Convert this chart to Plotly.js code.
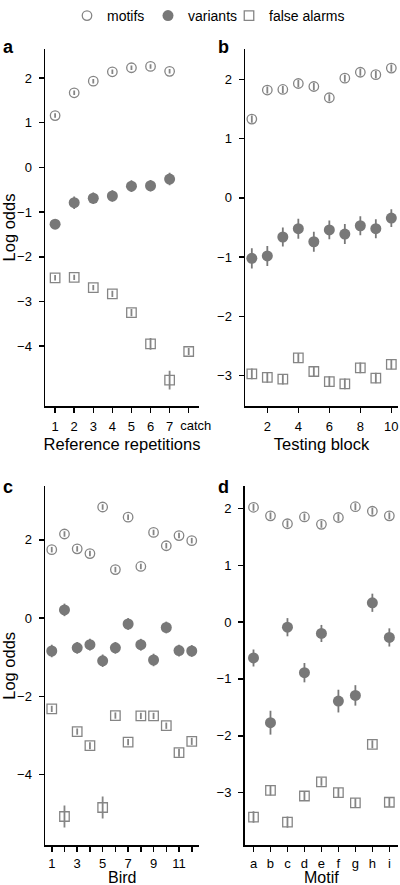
<!DOCTYPE html>
<html>
<head>
<meta charset="utf-8">
<script src="https://cdn.plot.ly/plotly-3.0.1.min.js"></script>
<style>
html,body{margin:0;padding:0;background:#fff;}
#chart{width:400px;height:885px;}
</style>
</head>
<body>
<div id="chart"></div>
<script>
// ---------- Panel a: Reference repetitions ----------
const aX = [1, 2, 3, 4, 5, 6, 7, 8];
const aTickText = ['1', '2', '3', '4', '5', '6', '7', ''];
const aCatchTick = [8];
const aCatchLabel = ['catch'];
const aMotifX = [1, 2, 3, 4, 5, 6, 7];
const aMotif = [1.16, 1.67, 1.93, 2.14, 2.23, 2.26, 2.15];
const aMotifErr = [0.05, 0.05, 0.05, 0.05, 0.05, 0.05, 0.05];
const aVariantX = [1, 2, 3, 4, 5, 6, 7];
const aVariant = [-1.27, -0.79, -0.69, -0.64, -0.42, -0.41, -0.26];
const aVariantErr = [0.06, 0.14, 0.13, 0.13, 0.13, 0.13, 0.14];
const aFalseX = [1, 2, 3, 4, 5, 6, 7, 8];
const aFalse = [-2.47, -2.46, -2.69, -2.83, -3.25, -3.95, -4.76, -4.12];
const aFalseErr = [0.06, 0.06, 0.06, 0.07, 0.08, 0.13, 0.21, 0.08];

// ---------- Panel b: Testing block ----------
const bX = [1, 2, 3, 4, 5, 6, 7, 8, 9, 10];
const bTicks = [2, 4, 6, 8, 10];
const bMotif = [1.33, 1.82, 1.83, 1.93, 1.88, 1.69, 2.02, 2.12, 2.08, 2.19];
const bMotifErr = [0.06, 0.06, 0.06, 0.06, 0.06, 0.06, 0.06, 0.06, 0.06, 0.06];
const bVariant = [-1.02, -0.98, -0.66, -0.52, -0.74, -0.54, -0.61, -0.47, -0.52, -0.34];
const bVariantErr = [0.17, 0.17, 0.16, 0.17, 0.17, 0.16, 0.17, 0.16, 0.16, 0.15];
const bFalse = [-2.97, -3.03, -3.06, -2.70, -2.93, -3.10, -3.14, -2.87, -3.04, -2.81];
const bFalseErr = [0.09, 0.09, 0.09, 0.08, 0.09, 0.09, 0.09, 0.09, 0.09, 0.08];

// ---------- Panel c: Bird ----------
const cX = [1, 2, 3, 4, 5, 6, 7, 8, 9, 10, 11, 12];
const cTickText = ['1', '', '3', '', '5', '', '7', '', '9', '', '11', ''];
const cMotif = [1.75, 2.15, 1.77, 1.65, 2.84, 1.24, 2.58, 1.32, 2.19, 1.85, 2.11, 1.98];
const cMotifErr = [0.07, 0.07, 0.07, 0.07, 0.07, 0.07, 0.07, 0.07, 0.07, 0.07, 0.07, 0.07];
const cVariant = [-0.84, 0.21, -0.76, -0.68, -1.09, -0.76, -0.15, -0.68, -1.07, -0.24, -0.83, -0.84];
const cVariantErr = [0.16, 0.16, 0.15, 0.15, 0.16, 0.15, 0.15, 0.15, 0.16, 0.15, 0.15, 0.15];
const cFalse = [-2.32, -5.07, -2.90, -3.26, -4.84, -2.49, -3.17, -2.50, -2.50, -2.75, -3.44, -3.15];
const cFalseErr = [0.08, 0.28, 0.08, 0.09, 0.28, 0.08, 0.08, 0.08, 0.08, 0.08, 0.1, 0.09];

// ---------- Panel d: Motif ----------
const dX = ['a', 'b', 'c', 'd', 'e', 'f', 'g', 'h', 'i'];
const dMotif = [2.02, 1.87, 1.73, 1.85, 1.72, 1.84, 2.03, 1.95, 1.87];
const dMotifErr = [0.06, 0.06, 0.06, 0.06, 0.06, 0.06, 0.06, 0.06, 0.06];
const dVariant = [-0.63, -1.77, -0.09, -0.89, -0.20, -1.39, -1.29, 0.34, -0.27];
const dVariantErr = [0.15, 0.21, 0.16, 0.17, 0.15, 0.2, 0.18, 0.16, 0.16];
const dFalse = [-3.43, -2.96, -3.52, -3.06, -2.81, -3.00, -3.18, -2.15, -3.17];
const dFalseErr = [0.1, 0.09, 0.1, 0.08, 0.07, 0.08, 0.08, 0.07, 0.08];

const seriesNames = ['motifs', 'variants', 'false alarms'];

// ---------- styles ----------
const GRAY = '#858585';
const FILL = '#787878';
const FONT = 'Liberation Sans, Arial, sans-serif';
const styles = [
  {symbol: 'circle-open', size: 9.5, color: GRAY, line: {color: GRAY, width: 1.3}},
  {symbol: 'circle', size: 11, color: FILL, line: {width: 0}},
  {symbol: 'square-open', size: 9.5, color: GRAY, line: {color: GRAY, width: 1.3}}
];
const errColor = [GRAY, FILL, GRAY];
const legendWidths = [36, 36, 90];

function tr(x, y, err, k, xa, ya) {
  return {
    type: 'scatter', mode: 'markers', x: x, y: y,
    xaxis: xa, yaxis: ya, showlegend: false, hoverinfo: 'x+y',
    marker: styles[k],
    error_y: {type: 'data', array: err, visible: true, width: 0, thickness: 1.8, color: errColor[k]}
  };
}

const data = [];
// panel a
data.push(tr(aMotifX, aMotif, aMotifErr, 0, 'x', 'y'));
data.push(tr(aVariantX, aVariant, aVariantErr, 1, 'x', 'y'));
data.push(tr(aFalseX, aFalse, aFalseErr, 2, 'x', 'y'));
// panel b
data.push(tr(bX, bMotif, bMotifErr, 0, 'x2', 'y2'));
data.push(tr(bX, bVariant, bVariantErr, 1, 'x2', 'y2'));
data.push(tr(bX, bFalse, bFalseErr, 2, 'x2', 'y2'));
// panel c
data.push(tr(cX, cMotif, cMotifErr, 0, 'x3', 'y3'));
data.push(tr(cX, cVariant, cVariantErr, 1, 'x3', 'y3'));
data.push(tr(cX, cFalse, cFalseErr, 2, 'x3', 'y3'));
// panel d
data.push(tr(dX, dMotif, dMotifErr, 0, 'x4', 'y4'));
data.push(tr(dX, dVariant, dVariantErr, 1, 'x4', 'y4'));
data.push(tr(dX, dFalse, dFalseErr, 2, 'x4', 'y4'));
// legend entries (no data; they live on the helper axis that carries the 'catch' label)
for (let k = 0; k < 3; k++) {
  data.push({type: 'scatter', mode: 'markers', x: [null], y: [null], xaxis: 'x5', yaxis: 'y',
    name: seriesNames[k], showlegend: true, marker: styles[k], legendwidth: legendWidths[k]});
}

const W = 400, H = 885;
const px = v => v / W;
const py = v => 1 - v / H;

const axBase = {
  showline: true, linecolor: '#000', linewidth: 1.5,
  ticks: 'outside', ticklen: 5, tickwidth: 1.5, tickcolor: '#000',
  showgrid: false, zeroline: false, mirror: false,
  tickfont: {family: FONT, size: 13, color: '#000'},
  tickangle: 0,
  fixedrange: true
};
function ax(extra) { return Object.assign({}, axBase, extra); }
const titleFont = {family: FONT, size: 16.5, color: '#000'};
const bottomTitleFont = {family: FONT, size: 16, color: '#000'};

const aRange = [0.47, 8.54];
const catchShiftPx = 7;
const aUnitPx = (199 - 45) / (aRange[1] - aRange[0]);
const aRangeShifted = [aRange[0] - catchShiftPx / aUnitPx, aRange[1] - catchShiftPx / aUnitPx];

const layout = {
  width: W, height: H,
  margin: {l: 0, r: 0, t: 0, b: 0},
  paper_bgcolor: '#fff', plot_bgcolor: '#fff',
  font: {family: FONT, color: '#000'},
  showlegend: true,
  legend: {
    orientation: 'h', x: px(67), xanchor: 'left', y: 1.012, yanchor: 'top',
    font: {family: FONT, size: 14, color: '#000'},
    entrywidthmode: 'pixels', itemwidth: 30,
    bgcolor: 'rgba(0,0,0,0)'
  },
  xaxis: ax({domain: [px(45), px(199)], anchor: 'y', range: aRange,
    tickmode: 'array', tickvals: aX, ticktext: aTickText, ticklabelstandoff: 2,
    title: {text: 'Reference repetitions', font: titleFont, standoff: 6}}),
  xaxis5: ax({domain: [px(45), px(199)], anchor: 'y', overlaying: 'x', range: aRangeShifted,
    showline: false, tickcolor: 'rgba(0,0,0,0)',
    tickmode: 'array', tickvals: aCatchTick, ticktext: aCatchLabel, ticklabelstandoff: 2}),
  yaxis: ax({domain: [py(401), py(39)], anchor: 'x', range: [-5.35, 2.66],
    tickmode: 'array', tickvals: [-4, -3, -2, -1, 0, 1, 2], ticklabelstandoff: 4,
    title: {text: 'Log odds', font: titleFont, standoff: 2}}),
  xaxis2: ax({domain: [px(245), px(398)], anchor: 'y2', range: [0.56, 10.43],
    tickmode: 'array', tickvals: bTicks, ticklabelstandoff: 2,
    title: {text: 'Testing block', font: titleFont, standoff: 6}}),
  yaxis2: ax({domain: [py(401), py(39)], anchor: 'x2', range: [-3.52, 2.52],
    tickmode: 'array', tickvals: [-3, -2, -1, 0, 1, 2], ticklabelstandoff: 4}),
  xaxis3: ax({domain: [px(45), px(199)], anchor: 'y3', range: [0.47, 12.57],
    tickmode: 'array', tickvals: cX, ticktext: cTickText, ticklabelstandoff: 0}),
  yaxis3: ax({domain: [py(845), py(481.7)], anchor: 'x3', range: [-5.81, 3.37],
    tickmode: 'array', tickvals: [-4, -2, 0, 2], ticklabelstandoff: 4,
    title: {text: 'Log odds', font: titleFont, standoff: 2}}),
  xaxis4: ax({domain: [px(244.5), px(398)], anchor: 'y4', type: 'category',
    range: [-0.53, 8.51], categoryorder: 'array', categoryarray: dX,
    tickmode: 'array', tickvals: dX, ticktext: dX, ticklabelstandoff: 0}),
  yaxis4: ax({domain: [py(845), py(481.7)], anchor: 'x4', range: [-3.93, 2.39],
    tickmode: 'array', tickvals: [-3, -2, -1, 0, 1, 2], ticklabelstandoff: 4}),
  annotations: [
    {text: '<b>a</b>', x: px(1), y: py(37), xref: 'paper', yref: 'paper', xanchor: 'left', yanchor: 'middle', showarrow: false, font: {family: FONT, size: 18, color: '#000'}},
    {text: '<b>b</b>', x: px(216), y: py(37), xref: 'paper', yref: 'paper', xanchor: 'left', yanchor: 'middle', showarrow: false, font: {family: FONT, size: 18, color: '#000'}},
    {text: '<b>c</b>', x: px(1), y: py(482), xref: 'paper', yref: 'paper', xanchor: 'left', yanchor: 'middle', showarrow: false, font: {family: FONT, size: 18, color: '#000'}},
    {text: '<b>d</b>', x: px(216), y: py(482), xref: 'paper', yref: 'paper', xanchor: 'left', yanchor: 'middle', showarrow: false, font: {family: FONT, size: 18, color: '#000'}},
    {text: 'Bird', x: px(122), y: 0, yshift: -3, xref: 'paper', yref: 'paper', xanchor: 'center', yanchor: 'bottom', showarrow: false, font: bottomTitleFont},
    {text: 'Motif', x: px(321), y: 0, yshift: -3, xref: 'paper', yref: 'paper', xanchor: 'center', yanchor: 'bottom', showarrow: false, font: bottomTitleFont}
  ]
};

Plotly.newPlot('chart', data, layout, {displayModeBar: false, staticPlot: true});
</script>
</body>
</html>
